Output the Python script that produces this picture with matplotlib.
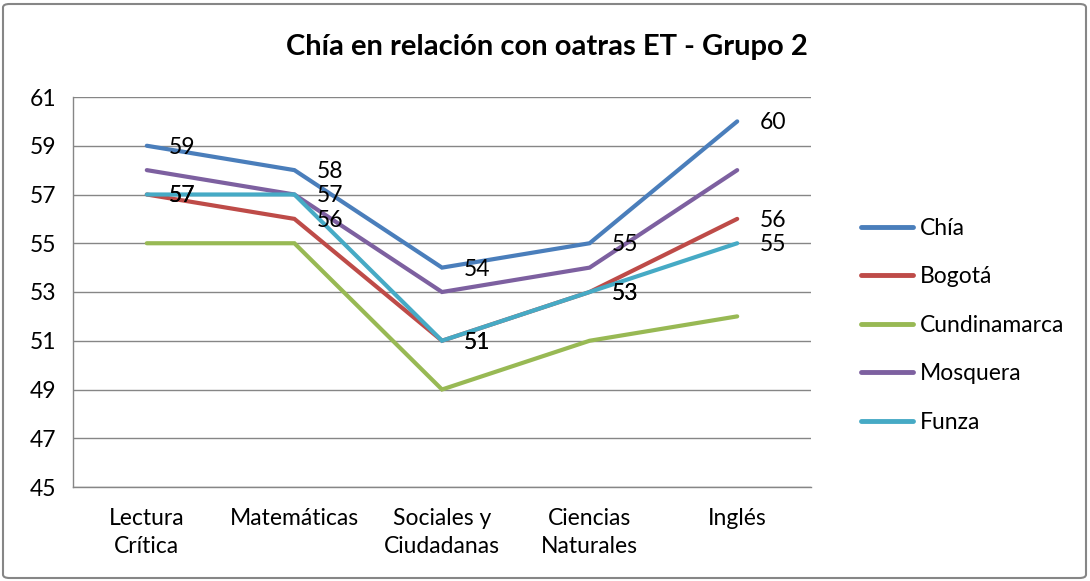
import matplotlib
matplotlib.use("Agg")
import matplotlib.pyplot as plt
from matplotlib.patches import FancyBboxPatch

categories = ["Lectura\nCrítica", "Matemáticas", "Sociales y\nCiudadanas", "Ciencias\nNaturales", "Inglés"]
chia = [59, 58, 54, 55, 60]
bogota = [57, 56, 51, 53, 56]
cundinamarca = [55, 55, 49, 51, 52]
mosquera = [58, 57, 53, 54, 58]
funza = [57, 57, 51, 53, 55]
yticks = [45, 47, 49, 51, 53, 55, 57, 59, 61]

series = [
    ("Chía", chia, "#4A7EBB", True),
    ("Bogotá", bogota, "#BE4B48", True),
    ("Cundinamarca", cundinamarca, "#98B954", False),
    ("Mosquera", mosquera, "#7D60A0", False),
    ("Funza", funza, "#46AAC5", True),
]

plt.rcParams["font.family"] = ["Lato", "DejaVu Sans"]
FS = 16.5
W, H = 1090, 581
fig = plt.figure(figsize=(W / 100, H / 100), dpi=100)

# outer chart frame
fig.patches.append(FancyBboxPatch((3 / W, 3 / H), (W - 7) / W, (H - 7) / H,
                                  boxstyle="round,pad=0,rounding_size=0.006",
                                  transform=fig.transFigure, fill=False,
                                  edgecolor="#868686", linewidth=1.5))

left, right, top, bottom = 73, 811, 97, 487
ax = fig.add_axes([left / W, 1 - bottom / H, (right - left) / W, (bottom - top) / H])

x = list(range(len(categories)))
for name, vals, color, labeled in series:
    ax.plot(x, vals, color=color, lw=3, solid_capstyle="round",
            solid_joinstyle="miter", label=name)
    if labeled:
        for xi, v in zip(x, vals):
            ax.annotate(str(v), (xi, v), xytext=(16, -1), textcoords="offset points",
                        ha="left", va="center", fontsize=FS, color="black")

ax.set_xlim(-0.5, len(categories) - 0.5)
ax.set_ylim(45, 61)
ax.set_yticks(yticks)
ax.set_xticks(x)
ax.set_xticklabels(categories, fontsize=FS, linespacing=1.45)
ax.tick_params(axis="y", labelsize=FS, length=0, pad=12)
ax.tick_params(axis="x", length=0, pad=15)
ax.grid(axis="y", color="#868686", lw=1)
ax.set_axisbelow(True)
for side in ["top", "right"]:
    ax.spines[side].set_visible(False)
for side in ["left", "bottom"]:
    ax.spines[side].set_color("#868686")
    ax.spines[side].set_linewidth(1)

fig.text(547 / W, 1 - 47 / H, "Chía en relación con oatras ET - Grupo 2",
         ha="center", va="center", fontsize=21, fontweight="bold")

leg = ax.legend(loc="upper left", bbox_to_anchor=(840 / W, 1 - 197 / H),
                bbox_transform=fig.transFigure, frameon=False, fontsize=FS,
                handlelength=2.3, handletextpad=0.3, labelspacing=1.2)
for line in leg.get_lines():
    line.set_linewidth(3.5)

fig.savefig("out.png", dpi=100)
